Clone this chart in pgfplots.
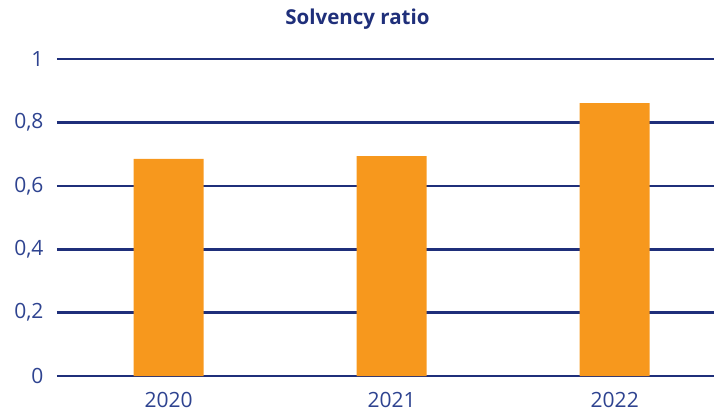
\documentclass[border=0pt]{standalone}
\usepackage{fontspec}
\setmainfont{Open Sans}
\usepackage{pgfplots}
\pgfplotsset{compat=1.18}
\definecolor{navy}{HTML}{1F2F7A}
\definecolor{ticknavy}{HTML}{2E4390}
\definecolor{barorange}{HTML}{F7981D}
\begin{document}
\begin{tikzpicture}
\begin{axis}[
  name=ax,
  scale only axis,
  width=657pt, height=317pt,
  xmin=-0.5, xmax=2.445,
  ymin=0, ymax=1,
  axis line style={draw=none},
  ytick={0,0.2,0.4,0.6,0.8,1},
  yticklabels={0,{0,2},{0,4},{0,6},{0,8},1},
  xtick={0,1,2},
  xticklabels={2020,2021,2022},
  ymajorgrids,
  grid style={navy, line width=2.6pt},
  major tick length=0pt,
  tick style={draw=none},
  tick label style={font=\fontsize{21}{24}\selectfont, text=ticknavy},
  yticklabel style={anchor=east, xshift=-10pt},
  xticklabel style={anchor=north, yshift=-13pt},
  axis on top=false,
  clip=false,
]
\addplot[ybar, bar width=70pt, fill=barorange, draw=none, bar shift=0pt] coordinates {(0,0.685) (1,0.694) (2,0.861)};
\end{axis}
\node[font=\bfseries\fontsize{20.5}{24}\selectfont, text=navy] at ([xshift=-28pt,yshift=40pt]ax.north) {Solvency ratio};
\pgfresetboundingbox
\path[use as bounding box] ([xshift=-57pt,yshift=-42pt]ax.south west) rectangle ([yshift=59pt]ax.north east);
\end{tikzpicture}
\end{document}
